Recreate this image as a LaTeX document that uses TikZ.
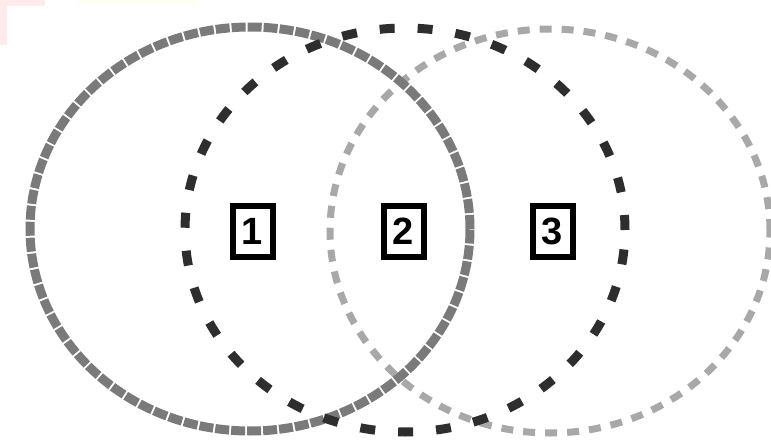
\documentclass[tikz,border=0pt]{standalone}
\usepackage{fontspec}
\setmainfont{Liberation Sans}
\usepackage{tikz}
\usetikzlibrary{shapes.geometric}

\definecolor{ringgrey}{HTML}{7A7A7A}
\definecolor{ringdark}{HTML}{2E2E2E}
\definecolor{ringlight}{HTML}{A8A8A8}

\begin{document}
\begin{tikzpicture}[x=1pt, y=-1pt,
  ring/.style={ellipse, minimum width=440pt, minimum height=404pt, inner sep=0pt},
  numbox/.style={draw, line width=6pt, fill=white, minimum width=40pt, minimum height=51pt,
    inner sep=0pt, font=\bfseries\fontsize{38}{38}\selectfont},
]
  \useasboundingbox (0,0) rectangle (771,441);
  \fill[white] (0,0) rectangle (771,441);
  % faint page background in the corner
  \fill[red!8] (0,0) rectangle (45,6);
  \fill[red!8] (0,0) rectangle (7,45);
  \fill[green!8!yellow!6] (78,0) rectangle (195,5);

  \node[ring, draw=ringlight, line width=7pt, dash pattern=on 12pt off 10pt] (setC) at (550,231) {};
  \node[ring, draw=ringgrey, line width=9pt, dash pattern=on 14pt off 2pt] (setA) at (250,229) {};
  \node[ring, draw=ringdark, line width=9pt, dash pattern=on 15pt off 23pt] (setB) at (405,230) {};

  \node[numbox] (n1) at (252.5,231.5) {1};
  \node[numbox] (n2) at (403.5,231.5) {2};
  \node[numbox] (n3) at (552.5,231.5) {3};
\end{tikzpicture}
\end{document}
